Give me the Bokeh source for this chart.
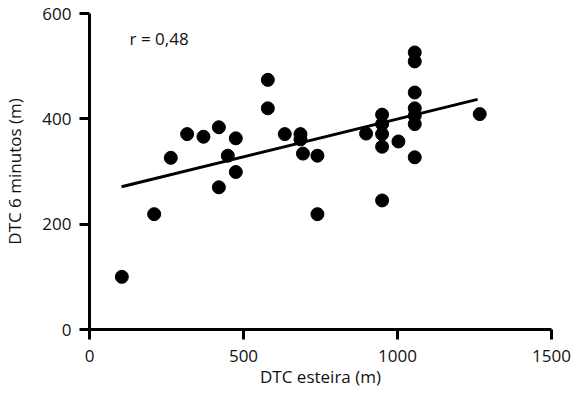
from bokeh.plotting import figure
from bokeh.models import Range1d, Label, FixedTicker
from bokeh.embed import file_html
from bokeh.resources import INLINE

# Data
dtc_esteira = [105, 210, 264, 317, 370, 420, 420, 449, 475, 475,
               579, 579, 634, 685, 685, 693, 740, 740, 898,
               950, 950, 950, 950, 950, 1003,
               1056, 1056, 1056, 1056, 1056, 1056, 1056, 1267]
dtc_6min = [100, 219, 326, 371, 366, 384, 270, 330, 363, 299,
            474, 420, 371, 371, 361, 334, 330, 219, 372,
            408, 390, 371, 347, 245, 357,
            526, 509, 450, 420, 406, 390, 327, 409]
fit_x = [104, 1260]
fit_y = [271, 437]
x_ticks = [0, 500, 1000, 1500]
y_ticks = [0, 200, 400, 600]
r_text = "r = 0,48"

FONT = "Open Sans"

p = figure(width=571, height=395, output_backend="svg", toolbar_location=None,
           x_range=Range1d(0, 1500), y_range=Range1d(0, 600),
           min_border_left=84, min_border_right=20,
           min_border_top=13, min_border_bottom=66)
p.outline_line_color = None
p.xgrid.visible = False
p.ygrid.visible = False

p.line(fit_x, fit_y, line_color="black", line_width=3)
p.scatter(dtc_esteira, dtc_6min, size=13, fill_color="black", line_color="black")

for ax in (p.xaxis[0], p.yaxis[0]):
    ax.axis_line_width = 3
    ax.axis_line_color = "black"
    ax.major_tick_line_width = 3
    ax.major_tick_line_color = "black"
    ax.major_tick_out = 10
    ax.major_tick_in = 0
    ax.minor_tick_out = 0
    ax.minor_tick_in = 0
    ax.major_label_text_font = FONT
    ax.major_label_text_font_size = "17px"
    ax.major_label_text_color = "#111111"
    ax.axis_label_text_font = FONT
    ax.axis_label_text_font_size = "17px"
    ax.axis_label_text_font_style = "normal"
    ax.axis_label_text_color = "#111111"

p.xaxis[0].ticker = FixedTicker(ticks=x_ticks)
p.yaxis[0].ticker = FixedTicker(ticks=y_ticks)
p.xaxis[0].axis_label = "DTC esteira (m)"
p.yaxis[0].axis_label = "DTC 6 minutos (m)"
p.xaxis[0].major_label_standoff = 10
p.xaxis[0].axis_label_standoff = 0
p.yaxis[0].major_label_standoff = 8
p.yaxis[0].axis_label_standoff = 13

p.add_layout(Label(x=130, y=552, text=r_text, text_font=FONT,
                   text_font_size="17px", text_baseline="middle",
                   text_color="#111111"))

open("out.html", "w").write(file_html(p, INLINE))
